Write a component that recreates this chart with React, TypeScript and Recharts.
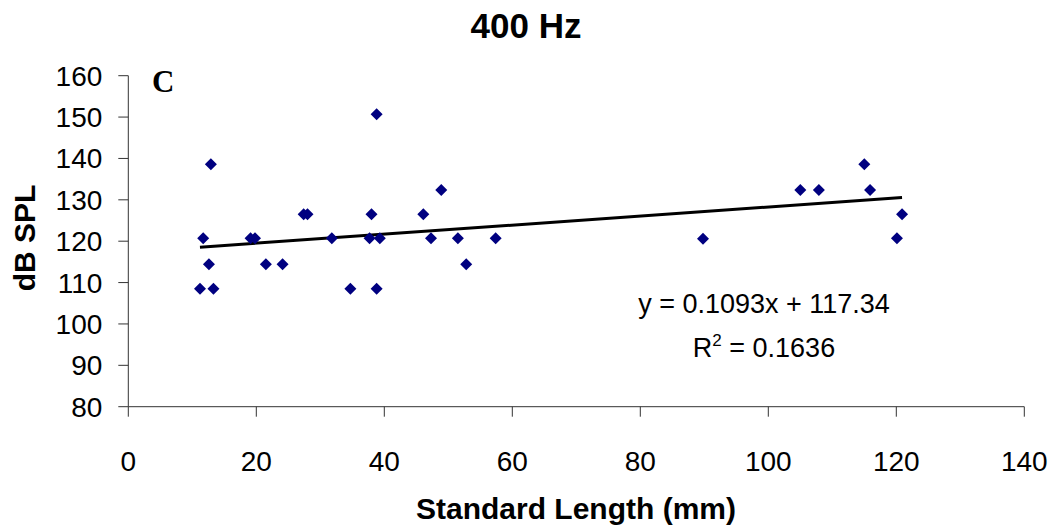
import React from "react";
import { ScatterChart, Scatter, XAxis, YAxis } from "recharts";

// standard length (mm) and threshold (dB SPL)
const lengths = [
  11.2, 11.7, 12.6, 12.9, 13.3, 19.1, 19.8, 21.5, 24.1, 27.4, 28.0, 31.8, 34.7,
  37.7, 38.0, 38.8, 38.8, 39.3, 46.1, 47.3, 48.9, 51.5, 52.8, 57.4, 89.8, 105.0,
  107.9, 115.0, 115.9, 120.1, 120.9,
];
const splValues = [
  108.5, 120.7, 114.4, 138.6, 108.5, 120.7, 120.7, 114.4, 114.4, 126.5, 126.5,
  120.7, 108.5, 120.7, 126.5, 150.7, 108.5, 120.7, 126.5, 120.7, 132.4, 120.7,
  114.4, 120.7, 120.6, 132.4, 132.4, 138.6, 132.4, 120.7, 126.5,
];

// linear trendline y = 0.1093x + 117.34, from min to max length
const trendX = [11.2, 120.9];
const trendY = [118.56, 130.55];

const xTicks = [0, 20, 40, 60, 80, 100, 120, 140];
const yTicks = [80, 90, 100, 110, 120, 130, 140, 150, 160];

const points = lengths.map((x, i) => ({ x, y: splValues[i] }));
const trend = trendX.map((x, i) => ({ x, y: trendY[i] }));

const FONT = '"Liberation Sans", Arial, sans-serif';

const Diamond = (props: any) => {
  const { cx, cy } = props;
  if (cx == null || cy == null) return <g />;
  const r = 6;
  return (
    <polygon
      points={`${cx},${cy - r} ${cx + r},${cy} ${cx},${cy + r} ${cx - r},${cy}`}
      fill="#000080"
    />
  );
};

const NoDot = () => <g />;

export default function App() {
  return (
    <div style={{ position: "absolute", left: 0, top: 0, background: "#fff" }}>
      <ScatterChart
        width={1058}
        height={527}
        margin={{ top: 75.7, right: 33.7, bottom: 0, left: 0 }}
      >
        <XAxis
          type="number"
          dataKey="x"
          domain={[0, 140]}
          ticks={xTicks}
          interval={0}
          height={120.3}
          tickSize={10}
          tickMargin={34}
          stroke="#333"
          tick={{ fill: "#000", fontSize: 28, fontFamily: FONT }}
        />
        <YAxis
          type="number"
          dataKey="y"
          domain={[80, 160]}
          ticks={yTicks}
          interval={0}
          width={128.3}
          tickSize={10}
          tickMargin={16}
          stroke="#333"
          tick={{ fill: "#000", fontSize: 28, fontFamily: FONT }}
        />
        <Scatter
          data={trend}
          shape={NoDot}
          line={{ stroke: "#000", strokeWidth: 3 }}
          isAnimationActive={false}
        />
        <Scatter data={points} shape={Diamond} isAnimationActive={false} />

        <text
          x={526}
          y={38}
          textAnchor="middle"
          fontFamily={FONT}
          fontWeight="bold"
          fontSize={35}
          fill="#000"
        >
          400 Hz
        </text>
        <text
          x={152}
          y={92}
          fontFamily='"Liberation Serif", "Times New Roman", serif'
          fontWeight="bold"
          fontSize={31}
          fill="#000"
        >
          C
        </text>
        <text
          x={35}
          y={238}
          transform="rotate(-90 35 238)"
          textAnchor="middle"
          fontFamily={FONT}
          fontWeight="bold"
          fontSize={30}
          fill="#000"
        >
          dB SPL
        </text>
        <text
          x={576}
          y={519}
          textAnchor="middle"
          fontFamily={FONT}
          fontWeight="bold"
          fontSize={30}
          fill="#000"
        >
          Standard Length (mm)
        </text>
        <text
          x={764}
          y={313}
          textAnchor="middle"
          fontFamily={FONT}
          fontSize={27}
          fill="#000"
        >
          y = 0.1093x + 117.34
        </text>
        <text
          x={764}
          y={357}
          textAnchor="middle"
          fontFamily={FONT}
          fontSize={27}
          fill="#000"
        >
          R<tspan dy={-11} fontSize={17}>2</tspan>
          <tspan dy={11}> = 0.1636</tspan>
        </text>
      </ScatterChart>
    </div>
  );
}
